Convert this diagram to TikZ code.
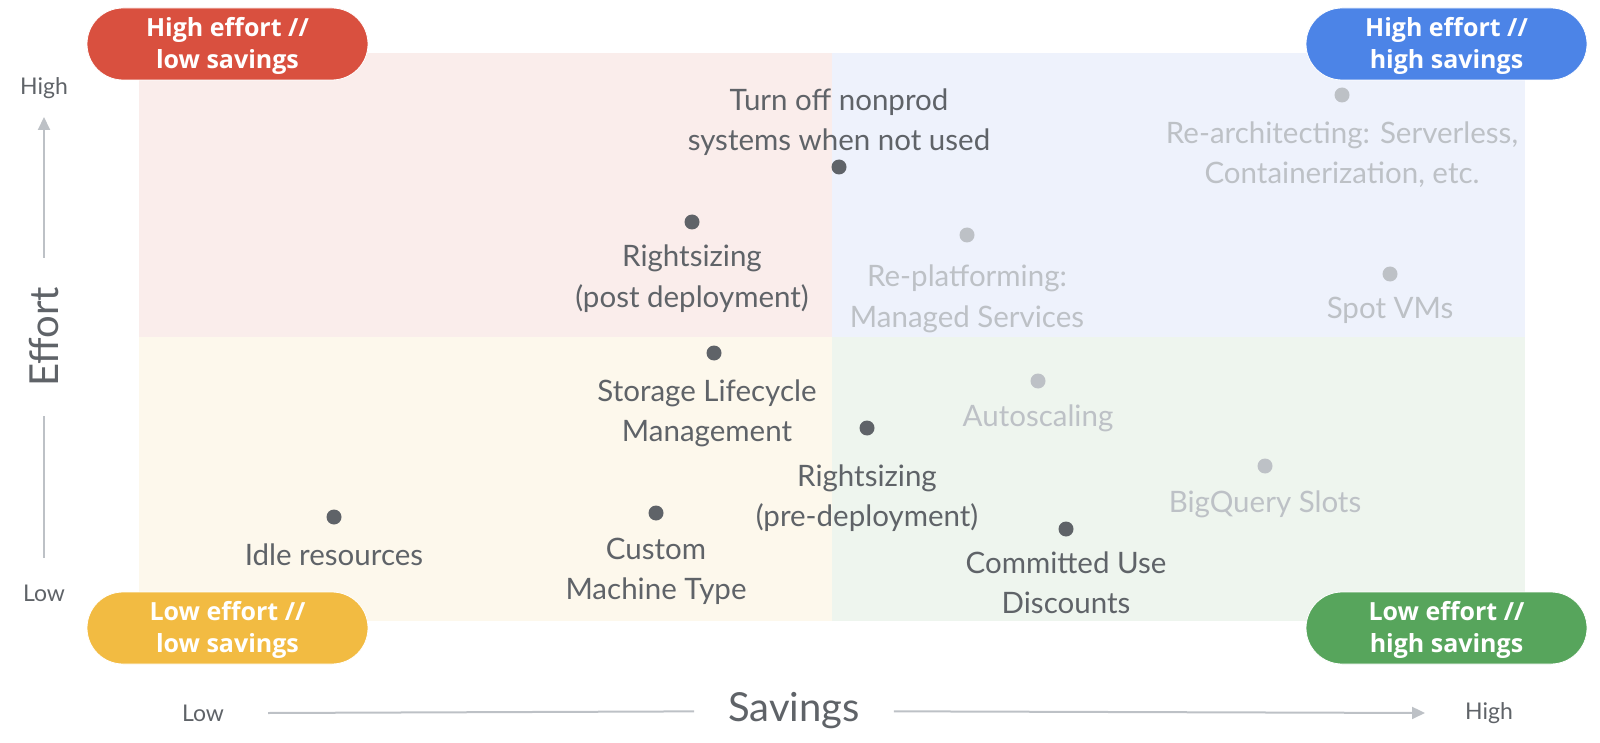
\documentclass[tikz,border=0pt]{standalone}
\usepackage{fontspec}
\setmainfont{Lato}
\newfontfamily\pillfont{Open Sans}
\usetikzlibrary{arrows.meta}
\definecolor{qpink}{HTML}{FAEDEB}
\definecolor{qblue}{HTML}{EEF2FC}
\definecolor{qyellow}{HTML}{FDF8EC}
\definecolor{qgreen}{HTML}{EEF5EE}
\definecolor{pred}{HTML}{D9503F}
\definecolor{pblue}{HTML}{4C84E7}
\definecolor{pyellow}{HTML}{F2BB42}
\definecolor{pgreen}{HTML}{57A55C}
\definecolor{darkg}{HTML}{5F6368}
\definecolor{lightg}{HTML}{BDC1C6}
\newcommand{\ptop}{\rule{0pt}{24pt}}
\newcommand{\pbot}{\rule[-7pt]{0pt}{7pt}}
\tikzset{
  pill/.style={draw=white, line width=0.8pt, rounded corners=36pt, minimum width=281pt, minimum height=72pt, inner sep=0pt,
    text=white, align=center, font=\pillfont\fontsize{25}{32}\selectfont\bfseries},
  dotd/.style={circle, fill=darkg, minimum size=15pt, inner sep=0pt},
  dotl/.style={circle, fill=lightg, minimum size=15pt, inner sep=0pt},
  labd/.style={text=darkg, align=center, inner sep=0pt, font=\fontsize{29.5}{40}\selectfont},
  labl/.style={labd, text=lightg},
  axlab/.style={text=darkg, inner sep=0pt, font=\fontsize{23}{26}\selectfont},
  axtitle/.style={text=darkg, font=\fontsize{40}{48}\selectfont},
  axline/.style={draw=lightg, line width=2pt},
}
\begin{document}
\begin{tikzpicture}[x=1pt, y=-1pt]
\useasboundingbox (0,0) rectangle (1600,743);
% quadrants
\fill[qpink] (139,53) rectangle (832,337);
\fill[qblue] (832,53) rectangle (1525,337);
\fill[qyellow] (139,337) rectangle (832,621);
\fill[qgreen] (832,337) rectangle (1525,621);
% pills
\node[pill, fill=pred] (pHL) at (227.5,44) {\ptop High effort //\\low savings\pbot};
\node[pill, fill=pblue] (pHH) at (1446.5,44) {\ptop High effort //\\high savings\pbot};
\node[pill, fill=pyellow] (pLL) at (227.5,628) {\ptop Low effort //\\low savings\pbot};
\node[pill, fill=pgreen] (pLH) at (1446.5,628) {\ptop Low effort //\\high savings\pbot};
% vertical axis
\node[axlab] (yhigh) at (44,88) {High};
\node[axlab] (ylow) at (44,593) {Low};
\node[axtitle, rotate=90, inner xsep=29pt, inner ysep=0pt] (effort) at (44,337) {Effort};
\coordinate (ybot) at (44,558);
\coordinate (ytop) at (44,117);
\draw[axline] (ybot) -- (effort);
\draw[axline, -{Triangle[length=13pt,width=12pt]}] (effort) -- (ytop);
% horizontal axis
\node[axlab] (xlow) at (203,713) {Low};
\node[axlab] (xhigh) at (1489,713) {High};
\node[axtitle, inner xsep=34pt, inner ysep=0pt] (savings) at (794,711) {Savings};
\coordinate (xleft) at (268,713);
\coordinate (xright) at (1425,713);
\draw[axline] (xleft) -- (savings);
\draw[axline, -{Triangle[length=13pt,width=12pt]}] (savings) -- (xright);
% dark items
\node[dotd] (d1) at (839,167) {};
\node[labd] (t1) at (839,123) {\strut Turn off nonprod\\systems when not used\strut};
\node[dotd] (d2) at (692,222) {};
\node[labd] (t2) at (692,279) {\strut Rightsizing\\(post deployment)\strut};
\node[dotd] (d3) at (714,353) {};
\node[labd] (t3) at (707,413) {\strut Storage Lifecycle\\Management\strut};
\node[dotd] (d4) at (867,428) {};
\node[labd] (t4) at (867,498) {\strut Rightsizing\\(pre-deployment)\strut};
\node[dotd] (d5) at (656,513) {};
\node[labd] (t5) at (656,571) {\strut Custom\\Machine Type\strut};
\node[dotd] (d6) at (334,517) {};
\node[labd] (t6) at (334,557) {\strut Idle resources};
\node[dotd] (d7) at (1066,529) {};
\node[labd] (t7) at (1066,585) {\strut Committed Use\\Discounts\strut};
% light items
\node[dotl] (l1) at (1342,95) {};
\node[labl] (u1) at (1342,156) {\strut Re-architecting: Serverless,\\Containerization, etc.\strut};
\node[dotl] (l2) at (967,235) {};
\node[labl] (u2) at (967,299) {\strut Re-platforming:\\Managed Services\strut};
\node[dotl] (l3) at (1390,274) {};
\node[labl] (u3) at (1390,310) {\strut Spot VMs};
\node[dotl] (l4) at (1038,381) {};
\node[labl] (u4) at (1038,418) {\strut Autoscaling};
\node[dotl] (l5) at (1265,466) {};
\node[labl] (u5) at (1265,504) {\strut BigQuery Slots};
\end{tikzpicture}
\end{document}
